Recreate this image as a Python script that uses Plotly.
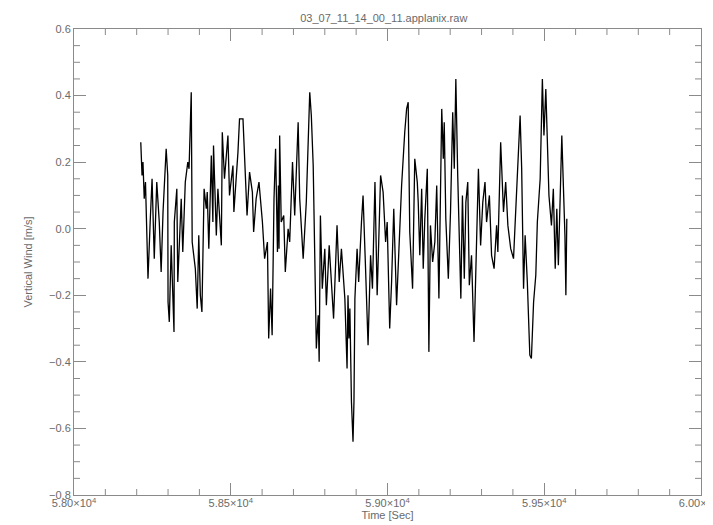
import plotly.graph_objects as go

# Time [s] and vertical wind [m/s]
time_s = [58213, 58217, 58220, 58224, 58228, 58233, 58236, 58243, 58249, 58256,
          58264, 58272, 58278, 58284, 58294, 58299, 58300, 58304, 58310, 58319,
          58320, 58328, 58331, 58342, 58347, 58355, 58363, 58367, 58374, 58377,
          58387, 58393, 58398, 58403, 58408, 58415, 58422, 58425, 58430, 58438,
          58443, 58445, 58454, 58459, 58470, 58473, 58480, 58491, 58496, 58507,
          58510, 58523, 58528, 58539, 58544, 58552, 58560, 58569, 58573, 58581,
          58590, 58601, 58608, 58617, 58621, 58627, 58632, 58638, 58643, 58649,
          58652, 58654, 58656, 58661, 58669, 58674, 58683, 58688, 58697, 58704,
          58715, 58720, 58731, 58741, 58752, 58757, 58763, 58768, 58773, 58779,
          58782, 58786, 58792, 58800, 58805, 58814, 58821, 58828, 58839, 58846,
          58853, 58864, 58871, 58874, 58877, 58880, 58885, 58890, 58893, 58896,
          58903, 58908, 58917, 58922, 58930, 58938, 58946, 58952, 58960, 58967,
          58972, 58978, 58986, 58994, 58999, 59007, 59013, 59020, 59029, 59037,
          59045, 59055, 59061, 59066, 59071, 59080, 59087, 59095, 59098, 59103,
          59109, 59114, 59119, 59127, 59132, 59137, 59144, 59151, 59157, 59164,
          59173, 59178, 59181, 59186, 59194, 59201, 59208, 59213, 59218, 59224,
          59229, 59234, 59239, 59245, 59250, 59256, 59261, 59268, 59276, 59282,
          59290, 59297, 59304, 59311, 59316, 59325, 59332, 59340, 59348, 59352,
          59361, 59370, 59377, 59384, 59393, 59402, 59409, 59416, 59423, 59428,
          59434, 59439, 59446, 59454, 59459, 59466, 59473, 59478, 59487, 59494,
          59499, 59505, 59510, 59515, 59523, 59529, 59535, 59540, 59545, 59551,
          59556, 59561, 59566, 59569, 59572]

vertical_wind = [0.26, 0.16, 0.20, 0.09, 0.14, -0.06, -0.15, 0.02, 0.15, -0.09,
                 0.14, 0.02, -0.13, 0.05, 0.24, 0.16, -0.22, -0.28, -0.05, -0.31,
                 0.02, 0.12, -0.16, 0.09, -0.07, 0.14, 0.20, 0.18, 0.41, -0.04,
                 -0.12, -0.24, -0.02, -0.20, -0.25, 0.12, 0.06, 0.11, -0.06, 0.22,
                 0.02, 0.25, -0.02, 0.12, -0.05, 0.29, 0.15, 0.28, 0.10, 0.19,
                 0.05, 0.23, 0.33, 0.33, 0.20, 0.04, 0.17, 0.11, -0.01, 0.09,
                 0.14, 0.02, -0.09, -0.04, -0.33, -0.18, -0.32, 0.09, 0.24, -0.07,
                 0.13, -0.06, 0.28, 0.02, 0.04, -0.13, 0.00, -0.04, 0.20, 0.04,
                 0.32, 0.09, -0.09, 0.08, 0.41, 0.34, 0.19, -0.16, -0.36, -0.26,
                 -0.40, 0.04, -0.18, -0.06, -0.23, -0.05, -0.16, -0.27, 0.01, -0.16,
                 -0.06, -0.21, -0.42, -0.20, -0.33, -0.24, -0.52, -0.64, -0.52, -0.21,
                 -0.06, -0.16, 0.02, 0.10, -0.12, -0.35, -0.08, -0.18, 0.14, -0.20,
                 -0.04, 0.16, 0.11, -0.04, 0.02, -0.30, -0.16, 0.06, -0.23, -0.04,
                 0.13, 0.29, 0.36, 0.38, -0.01, -0.18, 0.21, 0.14, 0.08, -0.08,
                 0.12, -0.12, 0.03, 0.18, -0.37, 0.01, -0.10, -0.04, 0.13, -0.21,
                 0.36, 0.21, 0.32, 0.03, -0.15, 0.05, 0.35, 0.18, 0.45, 0.16,
                 0.00, -0.21, 0.10, -0.15, 0.08, 0.14, -0.17, -0.08, -0.34, -0.14,
                 0.18, -0.05, 0.08, 0.14, 0.02, 0.10, -0.08, -0.12, 0.01, -0.07,
                 0.26, 0.05, 0.14, 0.01, -0.06, -0.09, 0.06, 0.20, 0.34, 0.18,
                 -0.18, -0.02, -0.16, -0.38, -0.39, -0.22, -0.14, 0.02, 0.15, 0.45,
                 0.28, 0.42, 0.28, 0.10, 0.01, 0.12, -0.12, 0.06, -0.11, 0.10,
                 0.28, 0.13, -0.02, -0.20, 0.03]

# x tick labels (IDL-style scientific notation)
x_label_alias = {
    "58000": "5.80×10<sup>4</sup>",
    "58500": "5.85×10<sup>4</sup>",
    "59000": "5.90×10<sup>4</sup>",
    "59500": "5.95×10<sup>4</sup>",
    "60000": "6.00×10<sup>4</sup>",
}

X_RANGE = [58000, 60000]
Y_RANGE = [-0.8, 0.6]
x_minor_vals = [t for t in range(58100, 60000, 100) if t % 500 != 0]
y_minor_vals = [round(-0.8 + 0.05 * i, 2) for i in range(1, 28) if i % 4 != 0]

axis_col = "#8a8a8a"
text_col = "#6a6a6a"
font_fam = "Liberation Sans, Arial, sans-serif"
MINOR_LEN = 6

fig = go.Figure()
fig.add_trace(go.Scatter(x=time_s, y=vertical_wind, mode="lines",
                         line=dict(color="black", width=1.3), showlegend=False))

# minor tick marks on all four sides (pixel length, placed via axis values)
tick_line = dict(color=axis_col, width=1)
for t in x_minor_vals:
    fig.add_shape(type="line", xref="x", yref="paper", ysizemode="pixel", yanchor=0,
                  x0=t, x1=t, y0=0, y1=MINOR_LEN, line=tick_line, layer="above")
    fig.add_shape(type="line", xref="x", yref="paper", ysizemode="pixel", yanchor=1,
                  x0=t, x1=t, y0=0, y1=-MINOR_LEN, line=tick_line, layer="above")
for v in y_minor_vals:
    fig.add_shape(type="line", yref="y", xref="paper", xsizemode="pixel", xanchor=0,
                  y0=v, y1=v, x0=0, x1=MINOR_LEN, line=tick_line, layer="above")
    fig.add_shape(type="line", yref="y", xref="paper", xsizemode="pixel", xanchor=1,
                  y0=v, y1=v, x0=0, x1=-MINOR_LEN, line=tick_line, layer="above")

fig.update_layout(
    width=713, height=525,
    margin=dict(l=66, r=20, t=21, b=38, autoexpand=False),
    paper_bgcolor="white", plot_bgcolor="white",
    font=dict(family=font_fam, size=11, color=text_col),
    title=dict(text="03_07_11_14_00_11.applanix.raw", x=0.527, xanchor="center",
               y=0.988, yanchor="top", font=dict(size=11, color=text_col)),
    xaxis=dict(
        range=X_RANGE, showgrid=False, zeroline=False, automargin=False,
        showline=True, linecolor=axis_col, linewidth=1, mirror="ticks",
        ticks="inside", ticklen=12, tickcolor=axis_col, tickwidth=1,
        tickmode="linear", tick0=58000, dtick=500,
        exponentformat="none", separatethousands=False, tickformat="d",
        labelalias=x_label_alias,
        ticklabeloverflow="allow", ticklabelstandoff=-2,
        tickfont=dict(size=11, color=text_col),
        title=dict(text="Time [Sec]", font=dict(size=11, color=text_col), standoff=0),
    ),
    yaxis=dict(
        range=Y_RANGE, showgrid=False, zeroline=False, automargin=False,
        showline=True, linecolor=axis_col, linewidth=1, mirror="ticks",
        ticks="inside", ticklen=12, tickcolor=axis_col, tickwidth=1,
        tickmode="linear", tick0=0, dtick=0.2, tickformat=".1f",
        tickfont=dict(size=11, color=text_col),
        title=dict(text="Vertical Wind [m/s]", font=dict(size=11, color=text_col), standoff=14),
    ),
)

fig.write_html("out.html")
